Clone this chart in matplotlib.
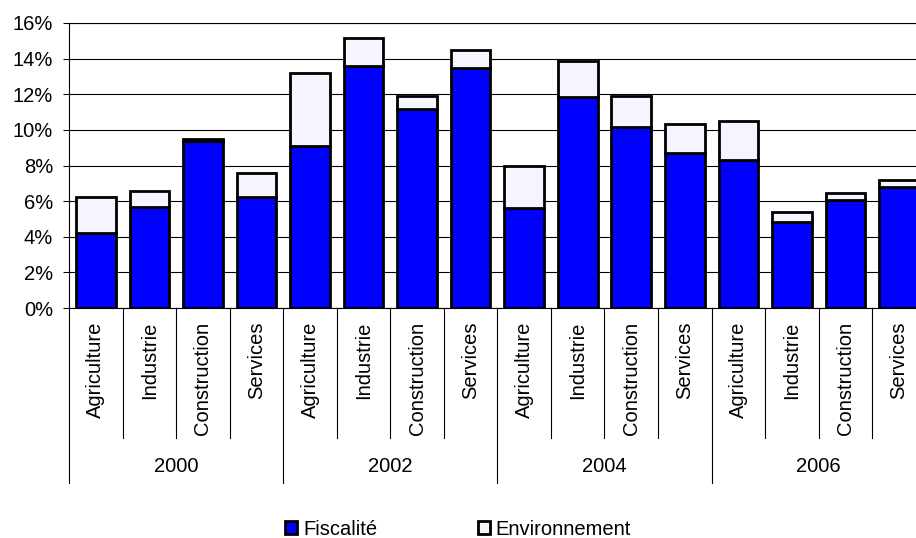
import matplotlib
matplotlib.use("Agg")
import matplotlib.pyplot as plt
from matplotlib.patches import Patch
import numpy as np

plt.rcParams['font.family'] = ['Liberation Sans', 'DejaVu Sans']

years = ["2000", "2002", "2004", "2006"]
sectors = ["Agriculture", "Industrie", "Construction", "Services"]

# share of each sector, in percent, per year (same order as sectors)
fiscalite = [4.2, 5.65, 9.35, 6.25,
             9.1, 13.57, 11.17, 13.46,
             5.6, 11.87, 10.15, 8.72,
             8.33, 4.82, 6.06, 6.78]
environnement = [2.05, 0.94, 0.16, 1.35,
                 4.08, 1.57, 0.75, 1.01,
                 2.37, 2.0, 1.75, 1.59,
                 2.15, 0.55, 0.41, 0.39]

ytick_values = [0, 2, 4, 6, 8, 10, 12, 14, 16]
ytick_labels = ["0%", "2%", "4%", "6%", "8%", "10%", "12%", "14%", "16%"]

series_names = ["Fiscalité", "Environnement"]
series_colors = ["#0000FF", "#F5F5FF"]

FS = 14.5

fig = plt.figure(figsize=(9.16, 5.38), dpi=100)
ax = fig.add_axes([69 / 916, 230 / 538, 856.8 / 916, 285 / 538])

n = len(years) * len(sectors)
x = np.arange(n)
fis = np.array(fiscalite)
env = np.array(environnement)

ax.bar(x, fis, width=0.74, color=series_colors[0], edgecolor="black",
       linewidth=2.0, zorder=3)
ax.bar(x, env, width=0.74, bottom=fis, color=series_colors[1],
       edgecolor="black", linewidth=2.0, zorder=3)

ax.set_xlim(-0.5, n - 0.5)
ax.set_ylim(0, 16)
ax.set_yticks(ytick_values, ytick_labels, fontsize=FS)
ax.tick_params(axis="y", length=4.3, width=0.75, pad=7.2, direction="out")
ax.yaxis.grid(True, color="black", linewidth=0.8, zorder=0)
ax.set_axisbelow(True)

for side in ("right",):
    ax.spines[side].set_visible(False)
for side in ("top", "left", "bottom"):
    ax.spines[side].set_linewidth(0.8)
    ax.spines[side].set_zorder(4)

# sector labels under each bar
labels = sectors * len(years)
ax.set_xticks(x, labels, rotation=90, fontsize=FS)
ax.tick_params(axis="x", length=0, pad=10)

trans = ax.get_xaxis_transform()
inner_bottom = -(438 - 308) / 285
outer_bottom = -(483 - 308) / 285
for b in range(n + 1):
    xb = b - 0.5
    yb = outer_bottom if b % len(sectors) == 0 else inner_bottom
    ax.plot([xb, xb], [0, yb], color="black", linewidth=0.8,
            transform=trans, clip_on=False)

year_y = -(466 - 308) / 285
for i, yr in enumerate(years):
    xc = i * len(sectors) + (len(sectors) - 1) / 2
    ax.text(xc, year_y, yr, transform=trans, ha="center", va="center",
            fontsize=FS)

handles = [Patch(facecolor=c, edgecolor="black", linewidth=2.0)
           for c in series_colors]
fig.legend(handles, series_names, loc="center", bbox_to_anchor=(0.5, 0.016),
           ncol=2, frameon=False, fontsize=FS, handlelength=0.6,
           handleheight=0.6, handletextpad=0.3, columnspacing=5.0,
           borderaxespad=0, borderpad=0)

fig.savefig("out.png", dpi=100)
